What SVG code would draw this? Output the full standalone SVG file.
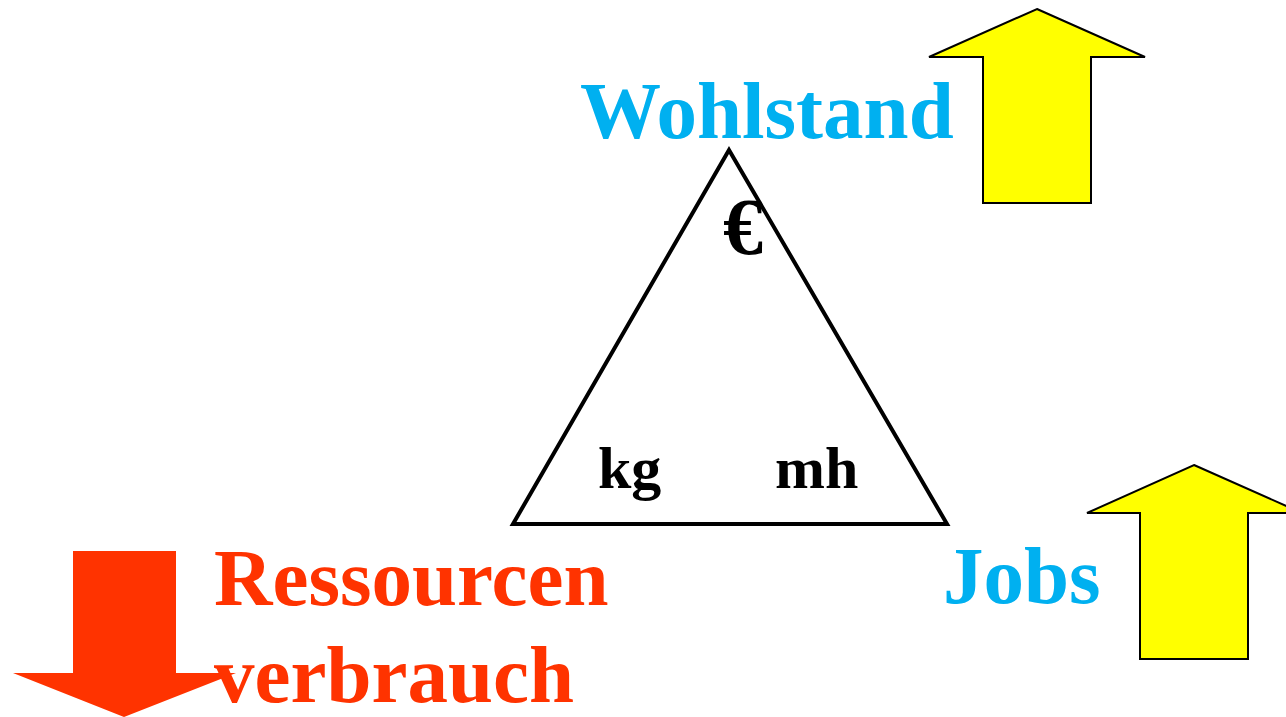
<svg xmlns="http://www.w3.org/2000/svg" width="1286" height="717" viewBox="0 0 1286 717">
<style>
.t{font-family:"Liberation Serif","Times New Roman",serif;font-weight:bold}
.blue{fill:#00B0F0;font-size:81px}
.red{fill:#FF3300;font-size:81px}
.blk{fill:#000;font-size:60px}
.up{fill:#FFFF00;stroke:#000;stroke-width:2;stroke-linejoin:miter}
</style>
<rect width="1286" height="717" fill="#fff"/>
<g id="arrow-wohlstand"><polygon class="up" points="1037,9 1145,57 1091,57 1091,203 983,203 983,57 929,57"/></g>
<g id="arrow-jobs"><polygon class="up" points="1194,465 1302,513 1248,513 1248,659 1140,659 1140,513 1087,513"/></g>
<g id="arrow-ressourcen"><polygon fill="#FF3300" points="73,551 176,551 176,673 236,673 124,717 13,673 73,673"/></g>
<g id="triangle"><polygon points="729,150 947,524 513,524" fill="none" stroke="#000" stroke-width="4" stroke-linejoin="miter"/>
<text class="t" x="743" y="254" font-size="80" text-anchor="middle" fill="#000">€</text>
<text class="t blk" x="598" y="488">kg</text>
<text class="t blk" x="775" y="488">mh</text></g>
<g id="label-wohlstand"><text class="t blue" x="580" y="138">Wohlstand</text></g>
<g id="label-jobs"><text class="t blue" x="943" y="603">Jobs</text></g>
<g id="label-ressourcen"><text class="t red" x="214" y="605">Ressourcen</text><text class="t red" x="214" y="702">verbrauch</text></g>
<g id="connectors"/>
</svg>
